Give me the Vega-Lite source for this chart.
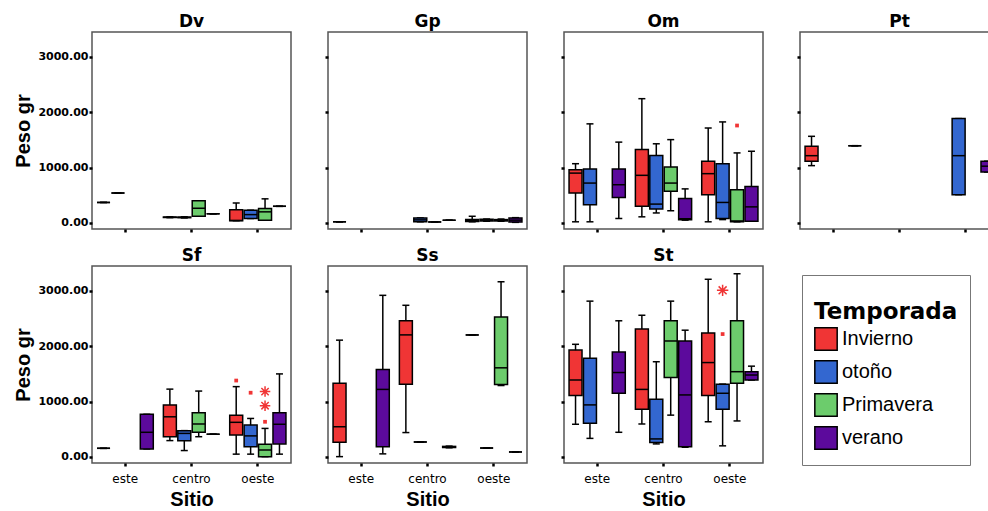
{
  "$schema": "https://vega.github.io/schema/vega-lite/v6.json",
  "padding": {"left": 13, "top": 12, "right": 0, "bottom": 0},
  "background": "white",
  "datasets": {
    "cajas": [
      {"Especie": "Dv", "Sitio": "este", "Temporada": "Invierno", "min": 370, "q1": 370, "mediana": 370, "q3": 370, "max": 370},
      {"Especie": "Dv", "Sitio": "este", "Temporada": "otoño", "min": 540, "q1": 540, "mediana": 540, "q3": 540, "max": 540},
      {"Especie": "Dv", "Sitio": "centro", "Temporada": "Invierno", "min": 95, "q1": 98, "mediana": 102, "q3": 106, "max": 110},
      {"Especie": "Dv", "Sitio": "centro", "Temporada": "otoño", "min": 90, "q1": 95, "mediana": 100, "q3": 105, "max": 110},
      {"Especie": "Dv", "Sitio": "centro", "Temporada": "Primavera", "min": 120, "q1": 120, "mediana": 265, "q3": 400, "max": 400},
      {"Especie": "Dv", "Sitio": "centro", "Temporada": "verano", "min": 165, "q1": 165, "mediana": 165, "q3": 165, "max": 165},
      {"Especie": "Dv", "Sitio": "oeste", "Temporada": "Invierno", "min": 40, "q1": 40, "mediana": 45, "q3": 240, "max": 360},
      {"Especie": "Dv", "Sitio": "oeste", "Temporada": "otoño", "min": 80, "q1": 80, "mediana": 150, "q3": 230, "max": 230},
      {"Especie": "Dv", "Sitio": "oeste", "Temporada": "Primavera", "min": 50, "q1": 50, "mediana": 200, "q3": 260, "max": 435},
      {"Especie": "Dv", "Sitio": "oeste", "Temporada": "verano", "min": 300, "q1": 300, "mediana": 300, "q3": 300, "max": 300},

      {"Especie": "Gp", "Sitio": "este", "Temporada": "Invierno", "min": 20, "q1": 20, "mediana": 20, "q3": 20, "max": 20},
      {"Especie": "Gp", "Sitio": "centro", "Temporada": "otoño", "min": 20, "q1": 20, "mediana": 55, "q3": 90, "max": 90},
      {"Especie": "Gp", "Sitio": "centro", "Temporada": "Primavera", "min": 18, "q1": 18, "mediana": 18, "q3": 18, "max": 18},
      {"Especie": "Gp", "Sitio": "centro", "Temporada": "verano", "min": 48, "q1": 48, "mediana": 48, "q3": 48, "max": 48},
      {"Especie": "Gp", "Sitio": "oeste", "Temporada": "Invierno", "min": 20, "q1": 25, "mediana": 40, "q3": 60, "max": 120},
      {"Especie": "Gp", "Sitio": "oeste", "Temporada": "otoño", "min": 30, "q1": 35, "mediana": 50, "q3": 65, "max": 70},
      {"Especie": "Gp", "Sitio": "oeste", "Temporada": "Primavera", "min": 30, "q1": 35, "mediana": 50, "q3": 60, "max": 70},
      {"Especie": "Gp", "Sitio": "oeste", "Temporada": "verano", "min": 10, "q1": 15, "mediana": 50, "q3": 90, "max": 95},

      {"Especie": "Om", "Sitio": "este", "Temporada": "Invierno", "min": 20, "q1": 540, "mediana": 900, "q3": 960, "max": 1070},
      {"Especie": "Om", "Sitio": "este", "Temporada": "otoño", "min": 20, "q1": 330, "mediana": 720, "q3": 975, "max": 1790},
      {"Especie": "Om", "Sitio": "este", "Temporada": "verano", "min": 80, "q1": 460, "mediana": 690, "q3": 975, "max": 1460},
      {"Especie": "Om", "Sitio": "centro", "Temporada": "Invierno", "min": 110, "q1": 300, "mediana": 860, "q3": 1325, "max": 2245},
      {"Especie": "Om", "Sitio": "centro", "Temporada": "otoño", "min": 180, "q1": 250, "mediana": 340, "q3": 1220, "max": 1430},
      {"Especie": "Om", "Sitio": "centro", "Temporada": "Primavera", "min": 220, "q1": 570, "mediana": 720, "q3": 1010, "max": 1505},
      {"Especie": "Om", "Sitio": "centro", "Temporada": "verano", "min": 50, "q1": 55, "mediana": 75, "q3": 440, "max": 615},
      {"Especie": "Om", "Sitio": "oeste", "Temporada": "Invierno", "min": 20, "q1": 510, "mediana": 890, "q3": 1115, "max": 1715},
      {"Especie": "Om", "Sitio": "oeste", "Temporada": "otoño", "min": 60, "q1": 80, "mediana": 370, "q3": 1070, "max": 1825},
      {"Especie": "Om", "Sitio": "oeste", "Temporada": "Primavera", "min": 20, "q1": 20, "mediana": 35, "q3": 600, "max": 1265},
      {"Especie": "Om", "Sitio": "oeste", "Temporada": "verano", "min": 30, "q1": 30, "mediana": 290, "q3": 660, "max": 1295},

      {"Especie": "Pt", "Sitio": "este", "Temporada": "Invierno", "min": 1035, "q1": 1115, "mediana": 1215, "q3": 1385, "max": 1565},
      {"Especie": "Pt", "Sitio": "este", "Temporada": "verano", "min": 1395, "q1": 1395, "mediana": 1395, "q3": 1395, "max": 1395},
      {"Especie": "Pt", "Sitio": "oeste", "Temporada": "otoño", "min": 510, "q1": 510, "mediana": 1215, "q3": 1885, "max": 1885},
      {"Especie": "Pt", "Sitio": "oeste", "Temporada": "verano", "min": 920, "q1": 920, "mediana": 1025, "q3": 1115, "max": 1115},

      {"Especie": "Sf", "Sitio": "este", "Temporada": "Invierno", "min": 155, "q1": 155, "mediana": 155, "q3": 155, "max": 155},
      {"Especie": "Sf", "Sitio": "este", "Temporada": "verano", "min": 145, "q1": 145, "mediana": 445, "q3": 770, "max": 770},
      {"Especie": "Sf", "Sitio": "centro", "Temporada": "Invierno", "min": 295, "q1": 365, "mediana": 725, "q3": 940, "max": 1225},
      {"Especie": "Sf", "Sitio": "centro", "Temporada": "otoño", "min": 115, "q1": 290, "mediana": 425, "q3": 475, "max": 475},
      {"Especie": "Sf", "Sitio": "centro", "Temporada": "Primavera", "min": 365, "q1": 445, "mediana": 595, "q3": 800, "max": 1190},
      {"Especie": "Sf", "Sitio": "centro", "Temporada": "verano", "min": 410, "q1": 410, "mediana": 410, "q3": 410, "max": 410},
      {"Especie": "Sf", "Sitio": "oeste", "Temporada": "Invierno", "min": 50, "q1": 395, "mediana": 625, "q3": 755, "max": 1270},
      {"Especie": "Sf", "Sitio": "oeste", "Temporada": "otoño", "min": 50, "q1": 185, "mediana": 380, "q3": 575, "max": 695},
      {"Especie": "Sf", "Sitio": "oeste", "Temporada": "Primavera", "min": 5, "q1": 5, "mediana": 125, "q3": 230, "max": 515},
      {"Especie": "Sf", "Sitio": "oeste", "Temporada": "verano", "min": 50, "q1": 235, "mediana": 590, "q3": 800, "max": 1500},

      {"Especie": "Ss", "Sitio": "este", "Temporada": "Invierno", "min": 5, "q1": 265, "mediana": 545, "q3": 1330, "max": 2110},
      {"Especie": "Ss", "Sitio": "este", "Temporada": "verano", "min": 55, "q1": 185, "mediana": 1220, "q3": 1580, "max": 2920},
      {"Especie": "Ss", "Sitio": "centro", "Temporada": "Invierno", "min": 440, "q1": 1315, "mediana": 2205, "q3": 2460, "max": 2740},
      {"Especie": "Ss", "Sitio": "centro", "Temporada": "otoño", "min": 270, "q1": 270, "mediana": 270, "q3": 270, "max": 270},
      {"Especie": "Ss", "Sitio": "centro", "Temporada": "verano", "min": 165, "q1": 170, "mediana": 180, "q3": 190, "max": 195},
      {"Especie": "Ss", "Sitio": "oeste", "Temporada": "Invierno", "min": 2205, "q1": 2205, "mediana": 2205, "q3": 2205, "max": 2205},
      {"Especie": "Ss", "Sitio": "oeste", "Temporada": "otoño", "min": 160, "q1": 160, "mediana": 160, "q3": 160, "max": 160},
      {"Especie": "Ss", "Sitio": "oeste", "Temporada": "Primavera", "min": 1290, "q1": 1310, "mediana": 1610, "q3": 2530, "max": 3165},
      {"Especie": "Ss", "Sitio": "oeste", "Temporada": "verano", "min": 90, "q1": 90, "mediana": 90, "q3": 90, "max": 90},

      {"Especie": "St", "Sitio": "este", "Temporada": "Invierno", "min": 590, "q1": 1110, "mediana": 1390, "q3": 1930, "max": 2035},
      {"Especie": "St", "Sitio": "este", "Temporada": "otoño", "min": 335, "q1": 610, "mediana": 940, "q3": 1785, "max": 2815},
      {"Especie": "St", "Sitio": "este", "Temporada": "verano", "min": 445, "q1": 1150, "mediana": 1525, "q3": 1895, "max": 2460},
      {"Especie": "St", "Sitio": "centro", "Temporada": "Invierno", "min": 595, "q1": 860, "mediana": 1220, "q3": 2310, "max": 2560},
      {"Especie": "St", "Sitio": "centro", "Temporada": "otoño", "min": 235, "q1": 260, "mediana": 325, "q3": 1040, "max": 1720},
      {"Especie": "St", "Sitio": "centro", "Temporada": "Primavera", "min": 755, "q1": 1435, "mediana": 2095, "q3": 2460, "max": 2815},
      {"Especie": "St", "Sitio": "centro", "Temporada": "verano", "min": 175, "q1": 185, "mediana": 1120, "q3": 2095, "max": 2290},
      {"Especie": "St", "Sitio": "oeste", "Temporada": "Invierno", "min": 635, "q1": 1110, "mediana": 1705, "q3": 2240, "max": 3210},
      {"Especie": "St", "Sitio": "oeste", "Temporada": "otoño", "min": 200, "q1": 860, "mediana": 1150, "q3": 1315, "max": 1315},
      {"Especie": "St", "Sitio": "oeste", "Temporada": "Primavera", "min": 650, "q1": 1330, "mediana": 1540, "q3": 2460, "max": 3310},
      {"Especie": "St", "Sitio": "oeste", "Temporada": "verano", "min": 1390, "q1": 1390, "mediana": 1480, "q3": 1540, "max": 1640}
    ],
    "atipicos": [
      {"Especie": "Om", "Sitio": "oeste", "Temporada": "Primavera", "Peso": 1760, "tipo": "atipico"},
      {"Especie": "Sf", "Sitio": "oeste", "Temporada": "Invierno", "Peso": 1380, "tipo": "atipico"},
      {"Especie": "Sf", "Sitio": "oeste", "Temporada": "otoño", "Peso": 1160, "tipo": "atipico"},
      {"Especie": "Sf", "Sitio": "oeste", "Temporada": "Primavera", "Peso": 635, "tipo": "atipico"},
      {"Especie": "Sf", "Sitio": "oeste", "Temporada": "Primavera", "Peso": 925, "tipo": "extremo"},
      {"Especie": "Sf", "Sitio": "oeste", "Temporada": "Primavera", "Peso": 1180, "tipo": "extremo"},
      {"Especie": "St", "Sitio": "oeste", "Temporada": "otoño", "Peso": 2220, "tipo": "atipico"},
      {"Especie": "St", "Sitio": "oeste", "Temporada": "otoño", "Peso": 3010, "tipo": "extremo"}
    ]
  },
  "columns": 4,
  "bounds": "flush",
  "spacing": {"row": 37, "column": 37},
  "concat": [
    {
      "title": "Dv", "width": 199, "height": 197,
      "encoding": {
        "x": {"field": "Sitio", "type": "nominal", "scale": {"domain": ["este", "centro", "oeste"], "paddingInner": 0, "paddingOuter": 0}, "axis": {"labels": false, "title": null}},
        "xOffset": {"field": "Temporada", "type": "nominal", "scale": {"domain": ["Invierno", "otoño", "Primavera", "verano"], "paddingInner": 0.1, "paddingOuter": 0.35}}
      },
      "layer": [
        {"data": {"name": "cajas"}, "transform": [{"filter": "datum.Especie === 'Dv'"}], "mark": {"type": "rule", "color": "black", "strokeWidth": 1.5},
         "encoding": {"y": {"field": "min", "type": "quantitative", "scale": {"domain": [-110, 3450], "nice": false, "zero": false}, "axis": {"values": [0, 1000, 2000, 3000], "format": ".2f", "title": "Peso gr"}}, "y2": {"field": "max"}}},
        {"data": {"name": "cajas"}, "transform": [{"filter": "datum.Especie === 'Dv'"}], "mark": {"type": "tick", "color": "black", "thickness": 1.5, "size": 7, "opacity": 1}, "encoding": {"y": {"field": "min", "type": "quantitative"}}},
        {"data": {"name": "cajas"}, "transform": [{"filter": "datum.Especie === 'Dv'"}], "mark": {"type": "tick", "color": "black", "thickness": 1.5, "size": 7, "opacity": 1}, "encoding": {"y": {"field": "max", "type": "quantitative"}}},
        {"data": {"name": "cajas"}, "transform": [{"filter": "datum.Especie === 'Dv'"}], "mark": {"type": "bar", "stroke": "black", "strokeWidth": 1.5, "opacity": 1},
         "encoding": {"y": {"field": "q1", "type": "quantitative"}, "y2": {"field": "q3"}, "color": {"field": "Temporada", "type": "nominal", "legend": {"title": ["", "Temporada"]}, "scale": {"domain": ["Invierno", "otoño", "Primavera", "verano"], "range": ["#F03535", "#3367D0", "#6CCC6C", "#5C0A9C"]}}}},
        {"data": {"name": "cajas"}, "transform": [{"filter": "datum.Especie === 'Dv'"}], "mark": {"type": "tick", "color": "black", "thickness": 1.5, "size": 13, "opacity": 1}, "encoding": {"y": {"field": "mediana", "type": "quantitative"}}}
      ]
    },
    {
      "title": "Gp", "width": 199, "height": 197,
      "encoding": {
        "x": {"field": "Sitio", "type": "nominal", "scale": {"domain": ["este", "centro", "oeste"], "paddingInner": 0, "paddingOuter": 0}, "axis": {"labels": false, "title": null}},
        "xOffset": {"field": "Temporada", "type": "nominal", "scale": {"domain": ["Invierno", "otoño", "Primavera", "verano"], "paddingInner": 0.1, "paddingOuter": 0.35}}
      },
      "layer": [
        {"data": {"name": "cajas"}, "transform": [{"filter": "datum.Especie === 'Gp'"}], "mark": {"type": "rule", "color": "black", "strokeWidth": 1.5},
         "encoding": {"y": {"field": "min", "type": "quantitative", "scale": {"domain": [-110, 3450], "nice": false, "zero": false}, "axis": {"values": [0, 1000, 2000, 3000], "labels": false, "title": null}}, "y2": {"field": "max"}}},
        {"data": {"name": "cajas"}, "transform": [{"filter": "datum.Especie === 'Gp'"}], "mark": {"type": "tick", "color": "black", "thickness": 1.5, "size": 7, "opacity": 1}, "encoding": {"y": {"field": "min", "type": "quantitative"}}},
        {"data": {"name": "cajas"}, "transform": [{"filter": "datum.Especie === 'Gp'"}], "mark": {"type": "tick", "color": "black", "thickness": 1.5, "size": 7, "opacity": 1}, "encoding": {"y": {"field": "max", "type": "quantitative"}}},
        {"data": {"name": "cajas"}, "transform": [{"filter": "datum.Especie === 'Gp'"}], "mark": {"type": "bar", "stroke": "black", "strokeWidth": 1.5, "opacity": 1},
         "encoding": {"y": {"field": "q1", "type": "quantitative"}, "y2": {"field": "q3"}, "color": {"field": "Temporada", "type": "nominal", "legend": {"title": ["", "Temporada"]}, "scale": {"domain": ["Invierno", "otoño", "Primavera", "verano"], "range": ["#F03535", "#3367D0", "#6CCC6C", "#5C0A9C"]}}}},
        {"data": {"name": "cajas"}, "transform": [{"filter": "datum.Especie === 'Gp'"}], "mark": {"type": "tick", "color": "black", "thickness": 1.5, "size": 13, "opacity": 1}, "encoding": {"y": {"field": "mediana", "type": "quantitative"}}}
      ]
    },
    {
      "title": "Om", "width": 199, "height": 197,
      "encoding": {
        "x": {"field": "Sitio", "type": "nominal", "scale": {"domain": ["este", "centro", "oeste"], "paddingInner": 0, "paddingOuter": 0}, "axis": {"labels": false, "title": null}},
        "xOffset": {"field": "Temporada", "type": "nominal", "scale": {"domain": ["Invierno", "otoño", "Primavera", "verano"], "paddingInner": 0.1, "paddingOuter": 0.35}}
      },
      "layer": [
        {"data": {"name": "cajas"}, "transform": [{"filter": "datum.Especie === 'Om'"}], "mark": {"type": "rule", "color": "black", "strokeWidth": 1.5},
         "encoding": {"y": {"field": "min", "type": "quantitative", "scale": {"domain": [-110, 3450], "nice": false, "zero": false}, "axis": {"values": [0, 1000, 2000, 3000], "labels": false, "title": null}}, "y2": {"field": "max"}}},
        {"data": {"name": "cajas"}, "transform": [{"filter": "datum.Especie === 'Om'"}], "mark": {"type": "tick", "color": "black", "thickness": 1.5, "size": 7, "opacity": 1}, "encoding": {"y": {"field": "min", "type": "quantitative"}}},
        {"data": {"name": "cajas"}, "transform": [{"filter": "datum.Especie === 'Om'"}], "mark": {"type": "tick", "color": "black", "thickness": 1.5, "size": 7, "opacity": 1}, "encoding": {"y": {"field": "max", "type": "quantitative"}}},
        {"data": {"name": "cajas"}, "transform": [{"filter": "datum.Especie === 'Om'"}], "mark": {"type": "bar", "stroke": "black", "strokeWidth": 1.5, "opacity": 1},
         "encoding": {"y": {"field": "q1", "type": "quantitative"}, "y2": {"field": "q3"}, "color": {"field": "Temporada", "type": "nominal", "legend": {"title": ["", "Temporada"]}, "scale": {"domain": ["Invierno", "otoño", "Primavera", "verano"], "range": ["#F03535", "#3367D0", "#6CCC6C", "#5C0A9C"]}}}},
        {"data": {"name": "cajas"}, "transform": [{"filter": "datum.Especie === 'Om'"}], "mark": {"type": "tick", "color": "black", "thickness": 1.5, "size": 13, "opacity": 1}, "encoding": {"y": {"field": "mediana", "type": "quantitative"}}},
        {"data": {"name": "atipicos"}, "transform": [{"filter": "datum.Especie === 'Om' && datum.tipo === 'atipico'"}], "mark": {"type": "point", "shape": "square", "filled": true, "color": "#F03535", "size": 14, "opacity": 1}, "encoding": {"y": {"field": "Peso", "type": "quantitative"}}}
      ]
    },
    {
      "title": "Pt", "width": 199, "height": 197,
      "encoding": {
        "x": {"field": "Sitio", "type": "nominal", "scale": {"domain": ["este", "centro", "oeste"], "paddingInner": 0, "paddingOuter": 0}, "axis": {"labels": false, "title": null}},
        "xOffset": {"field": "Temporada", "type": "nominal", "scale": {"domain": ["Invierno", "otoño", "Primavera", "verano"], "paddingInner": 0.1, "paddingOuter": 0.35}}
      },
      "layer": [
        {"data": {"name": "cajas"}, "transform": [{"filter": "datum.Especie === 'Pt'"}], "mark": {"type": "rule", "color": "black", "strokeWidth": 1.5},
         "encoding": {"y": {"field": "min", "type": "quantitative", "scale": {"domain": [-110, 3450], "nice": false, "zero": false}, "axis": {"values": [0, 1000, 2000, 3000], "labels": false, "title": null}}, "y2": {"field": "max"}}},
        {"data": {"name": "cajas"}, "transform": [{"filter": "datum.Especie === 'Pt'"}], "mark": {"type": "tick", "color": "black", "thickness": 1.5, "size": 7, "opacity": 1}, "encoding": {"y": {"field": "min", "type": "quantitative"}}},
        {"data": {"name": "cajas"}, "transform": [{"filter": "datum.Especie === 'Pt'"}], "mark": {"type": "tick", "color": "black", "thickness": 1.5, "size": 7, "opacity": 1}, "encoding": {"y": {"field": "max", "type": "quantitative"}}},
        {"data": {"name": "cajas"}, "transform": [{"filter": "datum.Especie === 'Pt'"}], "mark": {"type": "bar", "stroke": "black", "strokeWidth": 1.5, "opacity": 1},
         "encoding": {"y": {"field": "q1", "type": "quantitative"}, "y2": {"field": "q3"}, "color": {"field": "Temporada", "type": "nominal", "legend": {"title": ["", "Temporada"]}, "scale": {"domain": ["Invierno", "otoño", "Primavera", "verano"], "range": ["#F03535", "#3367D0", "#6CCC6C", "#5C0A9C"]}}}},
        {"data": {"name": "cajas"}, "transform": [{"filter": "datum.Especie === 'Pt'"}], "mark": {"type": "tick", "color": "black", "thickness": 1.5, "size": 13, "opacity": 1}, "encoding": {"y": {"field": "mediana", "type": "quantitative"}}}
      ]
    },
    {
      "title": "Sf", "width": 199, "height": 197,
      "encoding": {
        "x": {"field": "Sitio", "type": "nominal", "scale": {"domain": ["este", "centro", "oeste"], "paddingInner": 0, "paddingOuter": 0}, "axis": {"title": "Sitio"}},
        "xOffset": {"field": "Temporada", "type": "nominal", "scale": {"domain": ["Invierno", "otoño", "Primavera", "verano"], "paddingInner": 0.1, "paddingOuter": 0.35}}
      },
      "layer": [
        {"data": {"name": "cajas"}, "transform": [{"filter": "datum.Especie === 'Sf'"}], "mark": {"type": "rule", "color": "black", "strokeWidth": 1.5},
         "encoding": {"y": {"field": "min", "type": "quantitative", "scale": {"domain": [-110, 3450], "nice": false, "zero": false}, "axis": {"values": [0, 1000, 2000, 3000], "format": ".2f", "title": "Peso gr"}}, "y2": {"field": "max"}}},
        {"data": {"name": "cajas"}, "transform": [{"filter": "datum.Especie === 'Sf'"}], "mark": {"type": "tick", "color": "black", "thickness": 1.5, "size": 7, "opacity": 1}, "encoding": {"y": {"field": "min", "type": "quantitative"}}},
        {"data": {"name": "cajas"}, "transform": [{"filter": "datum.Especie === 'Sf'"}], "mark": {"type": "tick", "color": "black", "thickness": 1.5, "size": 7, "opacity": 1}, "encoding": {"y": {"field": "max", "type": "quantitative"}}},
        {"data": {"name": "cajas"}, "transform": [{"filter": "datum.Especie === 'Sf'"}], "mark": {"type": "bar", "stroke": "black", "strokeWidth": 1.5, "opacity": 1},
         "encoding": {"y": {"field": "q1", "type": "quantitative"}, "y2": {"field": "q3"}, "color": {"field": "Temporada", "type": "nominal", "legend": {"title": ["", "Temporada"]}, "scale": {"domain": ["Invierno", "otoño", "Primavera", "verano"], "range": ["#F03535", "#3367D0", "#6CCC6C", "#5C0A9C"]}}}},
        {"data": {"name": "cajas"}, "transform": [{"filter": "datum.Especie === 'Sf'"}], "mark": {"type": "tick", "color": "black", "thickness": 1.5, "size": 13, "opacity": 1}, "encoding": {"y": {"field": "mediana", "type": "quantitative"}}},
        {"data": {"name": "atipicos"}, "transform": [{"filter": "datum.Especie === 'Sf' && datum.tipo === 'atipico'"}], "mark": {"type": "point", "shape": "square", "filled": true, "color": "#F03535", "size": 14, "opacity": 1}, "encoding": {"y": {"field": "Peso", "type": "quantitative"}}},
        {"data": {"name": "atipicos"}, "transform": [{"filter": "datum.Especie === 'Sf' && datum.tipo === 'extremo'"}], "mark": {"type": "point", "shape": "M0,-1L0,1M-1,0L1,0M-0.7,-0.7L0.7,0.7M-0.7,0.7L0.7,-0.7", "filled": false, "color": "#F03535", "strokeWidth": 1.5, "size": 110, "opacity": 1}, "encoding": {"y": {"field": "Peso", "type": "quantitative"}}}
      ]
    },
    {
      "title": "Ss", "width": 199, "height": 197,
      "encoding": {
        "x": {"field": "Sitio", "type": "nominal", "scale": {"domain": ["este", "centro", "oeste"], "paddingInner": 0, "paddingOuter": 0}, "axis": {"title": "Sitio"}},
        "xOffset": {"field": "Temporada", "type": "nominal", "scale": {"domain": ["Invierno", "otoño", "Primavera", "verano"], "paddingInner": 0.1, "paddingOuter": 0.35}}
      },
      "layer": [
        {"data": {"name": "cajas"}, "transform": [{"filter": "datum.Especie === 'Ss'"}], "mark": {"type": "rule", "color": "black", "strokeWidth": 1.5},
         "encoding": {"y": {"field": "min", "type": "quantitative", "scale": {"domain": [-110, 3450], "nice": false, "zero": false}, "axis": {"values": [0, 1000, 2000, 3000], "labels": false, "title": null}}, "y2": {"field": "max"}}},
        {"data": {"name": "cajas"}, "transform": [{"filter": "datum.Especie === 'Ss'"}], "mark": {"type": "tick", "color": "black", "thickness": 1.5, "size": 7, "opacity": 1}, "encoding": {"y": {"field": "min", "type": "quantitative"}}},
        {"data": {"name": "cajas"}, "transform": [{"filter": "datum.Especie === 'Ss'"}], "mark": {"type": "tick", "color": "black", "thickness": 1.5, "size": 7, "opacity": 1}, "encoding": {"y": {"field": "max", "type": "quantitative"}}},
        {"data": {"name": "cajas"}, "transform": [{"filter": "datum.Especie === 'Ss'"}], "mark": {"type": "bar", "stroke": "black", "strokeWidth": 1.5, "opacity": 1},
         "encoding": {"y": {"field": "q1", "type": "quantitative"}, "y2": {"field": "q3"}, "color": {"field": "Temporada", "type": "nominal", "legend": {"title": ["", "Temporada"]}, "scale": {"domain": ["Invierno", "otoño", "Primavera", "verano"], "range": ["#F03535", "#3367D0", "#6CCC6C", "#5C0A9C"]}}}},
        {"data": {"name": "cajas"}, "transform": [{"filter": "datum.Especie === 'Ss'"}], "mark": {"type": "tick", "color": "black", "thickness": 1.5, "size": 13, "opacity": 1}, "encoding": {"y": {"field": "mediana", "type": "quantitative"}}}
      ]
    },
    {
      "title": "St", "width": 199, "height": 197,
      "encoding": {
        "x": {"field": "Sitio", "type": "nominal", "scale": {"domain": ["este", "centro", "oeste"], "paddingInner": 0, "paddingOuter": 0}, "axis": {"title": "Sitio"}},
        "xOffset": {"field": "Temporada", "type": "nominal", "scale": {"domain": ["Invierno", "otoño", "Primavera", "verano"], "paddingInner": 0.1, "paddingOuter": 0.35}}
      },
      "layer": [
        {"data": {"name": "cajas"}, "transform": [{"filter": "datum.Especie === 'St'"}], "mark": {"type": "rule", "color": "black", "strokeWidth": 1.5},
         "encoding": {"y": {"field": "min", "type": "quantitative", "scale": {"domain": [-110, 3450], "nice": false, "zero": false}, "axis": {"values": [0, 1000, 2000, 3000], "labels": false, "title": null}}, "y2": {"field": "max"}}},
        {"data": {"name": "cajas"}, "transform": [{"filter": "datum.Especie === 'St'"}], "mark": {"type": "tick", "color": "black", "thickness": 1.5, "size": 7, "opacity": 1}, "encoding": {"y": {"field": "min", "type": "quantitative"}}},
        {"data": {"name": "cajas"}, "transform": [{"filter": "datum.Especie === 'St'"}], "mark": {"type": "tick", "color": "black", "thickness": 1.5, "size": 7, "opacity": 1}, "encoding": {"y": {"field": "max", "type": "quantitative"}}},
        {"data": {"name": "cajas"}, "transform": [{"filter": "datum.Especie === 'St'"}], "mark": {"type": "bar", "stroke": "black", "strokeWidth": 1.5, "opacity": 1},
         "encoding": {"y": {"field": "q1", "type": "quantitative"}, "y2": {"field": "q3"}, "color": {"field": "Temporada", "type": "nominal", "legend": {"title": ["", "Temporada"]}, "scale": {"domain": ["Invierno", "otoño", "Primavera", "verano"], "range": ["#F03535", "#3367D0", "#6CCC6C", "#5C0A9C"]}}}},
        {"data": {"name": "cajas"}, "transform": [{"filter": "datum.Especie === 'St'"}], "mark": {"type": "tick", "color": "black", "thickness": 1.5, "size": 13, "opacity": 1}, "encoding": {"y": {"field": "mediana", "type": "quantitative"}}},
        {"data": {"name": "atipicos"}, "transform": [{"filter": "datum.Especie === 'St' && datum.tipo === 'atipico'"}], "mark": {"type": "point", "shape": "square", "filled": true, "color": "#F03535", "size": 14, "opacity": 1}, "encoding": {"y": {"field": "Peso", "type": "quantitative"}}},
        {"data": {"name": "atipicos"}, "transform": [{"filter": "datum.Especie === 'St' && datum.tipo === 'extremo'"}], "mark": {"type": "point", "shape": "M0,-1L0,1M-1,0L1,0M-0.7,-0.7L0.7,0.7M-0.7,0.7L0.7,-0.7", "filled": false, "color": "#F03535", "strokeWidth": 1.5, "size": 130, "opacity": 1}, "encoding": {"y": {"field": "Peso", "type": "quantitative"}}}
      ]
    }
  ],
  "config": {
    "font": "DejaVu Sans",
    "view": {"stroke": "#555555", "strokeWidth": 1.5},
    "axis": {"domain": false, "grid": false, "tickColor": "black", "tickSize": 3, "tickWidth": 2.5, "labelColor": "black", "titleColor": "black"},
    "axisY": {"labelFont": "DejaVu Sans", "labelFontWeight": "bold", "labelFontSize": 11, "labelPadding": 1, "titleFont": "Liberation Sans", "titleFontSize": 20, "titleFontWeight": "bold", "titlePadding": 4},
    "axisX": {"labelFont": "DejaVu Sans", "labelFontSize": 12, "labelAngle": 0, "labelPadding": 7, "titleFont": "Liberation Sans", "titleFontSize": 20, "titleFontWeight": "bold", "titlePadding": 5},
    "title": {"font": "DejaVu Sans", "fontSize": 17, "fontWeight": "bold", "anchor": "middle", "offset": 1, "color": "black"},
    "legend": {
      "orient": "none", "legendX": 710, "legendY": 243,
      "titleFont": "DejaVu Sans", "titleFontSize": 23, "titleFontWeight": "bold", "titleColor": "black", "titlePadding": 3, "titleLineHeight": 14,
      "labelFont": "Liberation Sans", "labelFontSize": 20, "labelColor": "black", "labelOffset": 4,
      "symbolType": "square", "symbolSize": 500, "symbolStrokeColor": "black", "symbolStrokeWidth": 1.5, "symbolOpacity": 1,
      "rowPadding": 3, "padding": 12, "strokeColor": "#777777", "fillColor": "white"
    }
  }
}
